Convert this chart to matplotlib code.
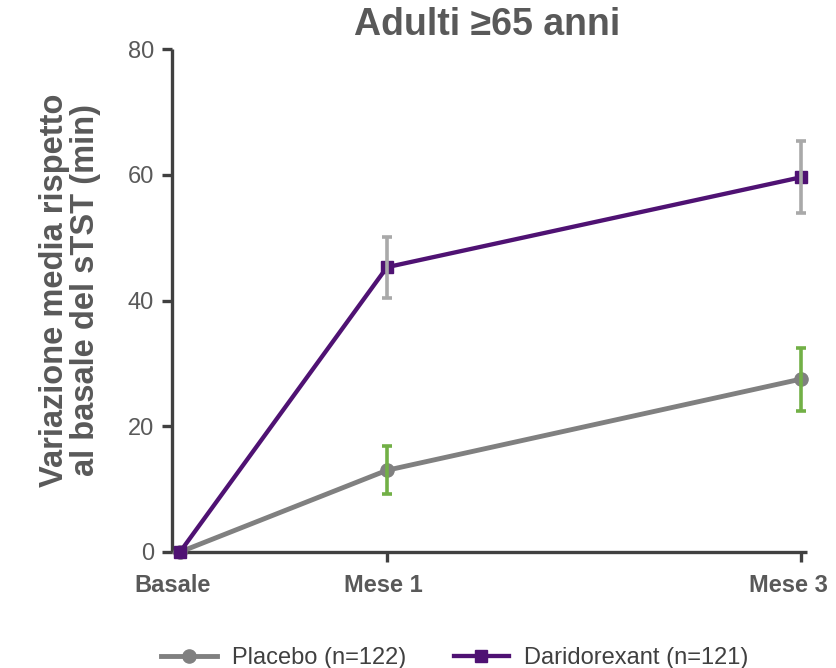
import matplotlib
matplotlib.use("Agg")
import matplotlib.pyplot as plt
from matplotlib.transforms import ScaledTranslation, blended_transform_factory

plt.rcParams['font.family'] = ['Liberation Sans', 'DejaVu Sans']

# Time points (months from baseline) and their labels
months = [0, 1, 3]
tick_labels = ["Basale", "Mese 1", "Mese 3"]

# Mean change from baseline in sTST (min) and error half-widths
placebo_mean = [0, 13.0, 27.5]
placebo_err = [0, 3.8, 5.0]
dari_mean = [0, 45.3, 59.6]
dari_err = [0, 4.85, 5.7]

placebo_label = "Placebo (n=122)"
dari_label = "Daridorexant (n=121)"

c_placebo = "#808080"
c_dari = "#4f1273"
c_err_placebo = "#72b046"
c_err_dari = "#a9a9a9"
c_text = "#595959"
c_axis = "#404040"

fig = plt.figure(figsize=(8.36, 6.68), dpi=100)
ax = fig.add_axes([172 / 836, 116 / 668, 635 / 836, 503 / 668])

ax.plot(months, placebo_mean, color=c_placebo, lw=3.5, marker="o", ms=9.5,
        label=placebo_label, zorder=3, clip_on=False)
ax.plot(months, dari_mean, color=c_dari, lw=3.1, marker="s", ms=9,
        label=dari_label, zorder=4, clip_on=False)

# error bars (skip baseline), drawn over the markers
ax.errorbar(months[1:], placebo_mean[1:], yerr=placebo_err[1:], fmt="none",
            ecolor=c_err_placebo, elinewidth=2.6, capsize=3.8, capthick=2.6, zorder=5)
ax.errorbar(months[1:], dari_mean[1:], yerr=dari_err[1:], fmt="none",
            ecolor=c_err_dari, elinewidth=2.6, capsize=3.8, capthick=2.6, zorder=5)

ax.set_xlim(-0.0386, 3.029)
ax.set_ylim(0, 80)
ax.set_yticks([0, 20, 40, 60, 80])
ax.set_xticks(months)
ax.set_xticklabels([])
ax.xaxis.get_major_ticks()[0].tick1line.set_visible(False)

# category labels under the axis, nudged left so the last one fits in the figure
base = blended_transform_factory(ax.transData, ax.transAxes)
for m, txt, dx in zip(months, tick_labels, [-7, -4, -13]):
    ax.text(m, 0, txt, transform=base + ScaledTranslation(dx / 100, -0.22, fig.dpi_scale_trans),
            ha="center", va="top", fontsize=17, fontweight="bold", color=c_text)

for s in ["top", "right"]:
    ax.spines[s].set_visible(False)
for s in ["left", "bottom"]:
    ax.spines[s].set_color(c_axis)
    ax.spines[s].set_linewidth(2.4)
    ax.spines[s].set_capstyle("butt")

ax.tick_params(axis="y", length=7, width=2.4, color=c_axis, labelsize=17,
               labelcolor=c_text, pad=6)
ax.tick_params(axis="x", length=7, width=2.4, color=c_axis)

fig.text(70 / 836, 1 - 290 / 668, "Variazione media rispetto\nal basale del sTST (min)",
         rotation=90, ha="center", va="center", fontsize=23.5, fontweight="bold",
         color=c_text, linespacing=1.0, multialignment="center")

fig.text(487 / 836, 1 - 7 / 668, "Adulti \u226565 anni", ha="center", va="top",
         fontsize=27, fontweight="bold", color=c_text)

fig.legend(loc="lower center", bbox_to_anchor=(455 / 836, -0.033), ncol=2, frameon=False,
           fontsize=17, labelcolor=c_axis, columnspacing=2.0, handlelength=2.35,
           handletextpad=0.65)

fig.savefig("out.png", dpi=100)
